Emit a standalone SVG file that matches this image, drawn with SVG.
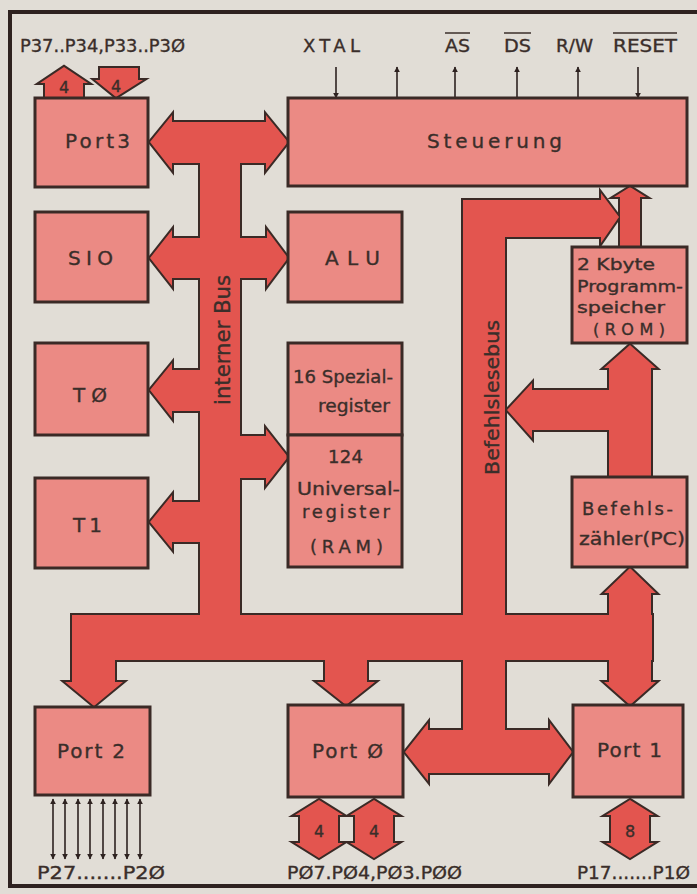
<svg xmlns="http://www.w3.org/2000/svg" xmlns:xlink="http://www.w3.org/1999/xlink" width="697" height="894" viewBox="0 0 697 894">
<style>
.bg{fill:#e1ddd6}
.frame{stroke:#2e2220;stroke-width:4;fill:none}
.box{fill:#eb8a84;stroke:#3a2a26;stroke-width:3}
.bo{fill:#e3554f;stroke:#3a2a26;stroke-width:4;stroke-linejoin:miter}
.bf{fill:#e3554f;stroke:none}
.sig{stroke:#2e2220;stroke-width:1.6;fill:none}
.ovl{stroke:#3a2e2a;stroke-width:1.5}
text{font-family:"DejaVu Sans","Liberation Sans",sans-serif;fill:#3a2e2a;stroke:#3a2e2a;stroke-width:0.35}
.lb{font-size:20px}
.rg{font-size:18px}
.sm{font-size:16px}
.pin{font-size:18px}
</style>
<defs>
<marker id="ah" viewBox="0 0 10 10" refX="9" refY="5" markerWidth="6" markerHeight="8" markerUnits="userSpaceOnUse" orient="auto-start-reverse">
<path d="M0,0 L10,5 L0,10 Z" fill="#2e2220"/>
</marker>
<g id="busPaths">
<path d="M150,142 L172,115 L172,122 L266,122 L266,115 L288,142 L266,170 L266,163 L172,163 L172,170 Z"/>
<path d="M200,150 H240 V640 H200 Z"/>
<path d="M150,258 L172,230 L172,238 L267,238 L267,230 L288,258 L267,286 L267,278 L172,278 L172,286 Z"/>
<path d="M150,390 L172,363 L172,370 L220,370 L220,411 L172,411 L172,418 Z"/>
<path d="M288,457 L266,429 L266,436 L220,436 L220,478 L266,478 L266,485 Z"/>
<path d="M150,522 L172,495 L172,502 L220,502 L220,542 L172,542 L172,549 Z"/>
<path d="M72,615 H652 V660 H72 Z"/>
<path d="M72,640 H115 V682 H123 L94,706 L65,682 H72 Z"/>
<path d="M325,640 H367 V682 H375 L346,705 L317,682 H325 Z"/>
<path d="M630,568 L656,593 L651,593 L651,682 L656,682 L630,705 L604,682 L609,682 L609,593 L604,593 Z"/>
<path d="M463,200 H601 V193 L619,217 L601,243 V237 H505 V730 H550 V723 L572,752 L550,781 V773 H428 V781 L405,752 L428,723 V730 H463 Z"/>
<path d="M507,410 L532,383 L532,390 L609,390 L609,430 L532,430 L532,438 Z"/>
<path d="M630,345 L656,368 L651,368 L651,477 L609,477 L609,368 L604,368 Z"/>
<path d="M630,187 L646,197 L640,197 L640,247 L620,247 L620,197 L614,197 Z"/>
<path d="M64,67 L88,83 L83,83 L83,98 L45,98 L45,83 L40,83 Z"/>
<path d="M100,68 H138 V80 H143 L116,97 L95,80 H100 Z"/>
<path d="M319,800 L343,815 L338,815 L338,843 L343,843 L319,858 L295,843 L300,843 L300,815 L295,815 Z"/>
<path d="M374,800 L398,815 L393,815 L393,843 L398,843 L374,858 L350,843 L355,843 L355,815 L350,815 Z"/>
<path d="M630,800 L654,815 L649,815 L649,843 L654,843 L630,858 L606,843 L611,843 L611,815 L606,815 Z"/>
</g>
</defs>
<rect class="bg" x="0" y="0" width="697" height="894"/>
<path class="frame" d="M697,12 H10 V886 H697"/>

<g id="connectors">
<use xlink:href="#busPaths" class="bo"/>
<use xlink:href="#busPaths" class="bf"/>
<text class="sm" x="64" y="93" text-anchor="middle">4</text>
<text class="sm" x="116" y="92" text-anchor="middle">4</text>
<text class="sm" x="319" y="837" text-anchor="middle">4</text>
<text class="sm" x="374" y="837" text-anchor="middle">4</text>
<text class="sm" x="630" y="837" text-anchor="middle">8</text>
<text transform="translate(230,405) rotate(-90)" font-size="21" textLength="130" lengthAdjust="spacingAndGlyphs">interner Bus</text>
<text transform="translate(499,475) rotate(-90)" font-size="19" textLength="155" lengthAdjust="spacingAndGlyphs">Befehlslesebus</text>
<line class="sig" x1="336" y1="67" x2="336" y2="98" marker-end="url(#ah)"/>
<line class="sig" x1="397" y1="98" x2="397" y2="67" marker-end="url(#ah)"/>
<line class="sig" x1="455" y1="98" x2="455" y2="67" marker-end="url(#ah)"/>
<line class="sig" x1="517" y1="98" x2="517" y2="67" marker-end="url(#ah)"/>
<line class="sig" x1="578" y1="98" x2="578" y2="67" marker-end="url(#ah)"/>
<line class="sig" x1="638" y1="67" x2="638" y2="98" marker-end="url(#ah)"/>
<g id="port2pins">
<line class="sig" x1="53" y1="799" x2="53" y2="859" marker-start="url(#ah)" marker-end="url(#ah)"/>
<line class="sig" x1="65" y1="799" x2="65" y2="859" marker-start="url(#ah)" marker-end="url(#ah)"/>
<line class="sig" x1="78" y1="799" x2="78" y2="859" marker-start="url(#ah)" marker-end="url(#ah)"/>
<line class="sig" x1="90" y1="799" x2="90" y2="859" marker-start="url(#ah)" marker-end="url(#ah)"/>
<line class="sig" x1="103" y1="799" x2="103" y2="859" marker-start="url(#ah)" marker-end="url(#ah)"/>
<line class="sig" x1="115" y1="799" x2="115" y2="859" marker-start="url(#ah)" marker-end="url(#ah)"/>
<line class="sig" x1="127" y1="799" x2="127" y2="859" marker-start="url(#ah)" marker-end="url(#ah)"/>
<line class="sig" x1="140" y1="799" x2="140" y2="859" marker-start="url(#ah)" marker-end="url(#ah)"/>
</g>
</g>

<g id="labels">
<text class="pin" x="20" y="52" textLength="165" lengthAdjust="spacingAndGlyphs">P37..P34,P33..P3Ø</text>
<text class="pin" x="303" y="52" textLength="57" lengthAdjust="spacing">XTAL</text>
<text class="pin" x="445" y="52" textLength="25" lengthAdjust="spacingAndGlyphs">AS</text>
<line class="ovl" x1="445" y1="33" x2="470" y2="33"/>
<text class="pin" x="504" y="52" textLength="27" lengthAdjust="spacingAndGlyphs">DS</text>
<line class="ovl" x1="504" y1="33" x2="531" y2="33"/>
<text class="pin" x="556" y="52" textLength="37" lengthAdjust="spacingAndGlyphs">R/W</text>
<text class="pin" x="613" y="52" textLength="64" lengthAdjust="spacingAndGlyphs">RESET</text>
<line class="ovl" x1="613" y1="33" x2="677" y2="33"/>
<text class="pin" x="37" y="879" textLength="128" lengthAdjust="spacingAndGlyphs">P27.......P2Ø</text>
<text class="pin" x="287" y="879" textLength="175" lengthAdjust="spacingAndGlyphs">PØ7.PØ4,PØ3.PØØ</text>
<text class="pin" x="577" y="879" textLength="113" lengthAdjust="spacingAndGlyphs">P17.......P1Ø</text>
</g>

<g id="port3"><rect class="box" x="35" y="98" width="113" height="89"/><text class="lb" x="65" y="148" textLength="65" lengthAdjust="spacing">Port3</text></g>
<g id="steuerung"><rect class="box" x="288" y="98" width="399" height="88"/><text class="lb" x="427" y="148" textLength="135" lengthAdjust="spacing">Steuerung</text></g>
<g id="sio"><rect class="box" x="35" y="212" width="113" height="90"/><text class="lb" x="68" y="265" textLength="45" lengthAdjust="spacing">SIO</text></g>
<g id="alu"><rect class="box" x="288" y="212" width="114" height="90"/><text class="lb" x="325" y="265" textLength="55" lengthAdjust="spacing">ALU</text></g>
<g id="t0"><rect class="box" x="35" y="343" width="113" height="92"/><text class="lb" x="73" y="402" textLength="34" lengthAdjust="spacing">T Ø</text></g>
<g id="spezialregister"><rect class="box" x="288" y="343" width="114" height="92"/>
<text class="rg" x="293" y="383" textLength="100" lengthAdjust="spacingAndGlyphs">16 Spezial-</text>
<text class="rg" x="318" y="412" textLength="72" lengthAdjust="spacingAndGlyphs">register</text></g>
<g id="ram"><rect class="box" x="288" y="435" width="114" height="132"/>
<text class="rg" x="328" y="463" textLength="35" lengthAdjust="spacing">124</text>
<text class="rg" x="297" y="495" textLength="103" lengthAdjust="spacingAndGlyphs">Universal-</text>
<text class="rg" x="302" y="518" textLength="88" lengthAdjust="spacing">register</text>
<text class="rg" x="310" y="553" textLength="73" lengthAdjust="spacing">(RAM)</text></g>
<g id="t1"><rect class="box" x="35" y="478" width="113" height="90"/><text class="lb" x="73" y="532" textLength="29" lengthAdjust="spacing">T1</text></g>
<g id="rom"><rect class="box" x="572" y="247" width="115" height="96"/>
<text class="sm" x="577" y="270" textLength="78" lengthAdjust="spacingAndGlyphs">2 Kbyte</text>
<text class="sm" x="577" y="292" textLength="106" lengthAdjust="spacingAndGlyphs">Programm-</text>
<text class="sm" x="577" y="313" textLength="88" lengthAdjust="spacingAndGlyphs">speicher</text>
<text class="sm" x="593" y="335" textLength="72" lengthAdjust="spacing">(ROM)</text></g>
<g id="befehlszaehler"><rect class="box" x="572" y="477" width="115" height="90"/>
<text class="rg" x="582" y="515" textLength="91" lengthAdjust="spacing">Befehls-</text>
<text class="rg" x="579" y="545" textLength="106" lengthAdjust="spacingAndGlyphs">zähler(PC)</text></g>
<g id="port2"><rect class="box" x="35" y="707" width="115" height="88"/><text class="lb" x="57" y="758" textLength="68" lengthAdjust="spacing">Port 2</text></g>
<g id="port0"><rect class="box" x="288" y="705" width="115" height="92"/><text class="lb" x="312" y="758" textLength="71" lengthAdjust="spacing">Port Ø</text></g>
<g id="port1"><rect class="box" x="573" y="705" width="110" height="92"/><text class="lb" x="597" y="757" textLength="65" lengthAdjust="spacing">Port 1</text></g>
</svg>
